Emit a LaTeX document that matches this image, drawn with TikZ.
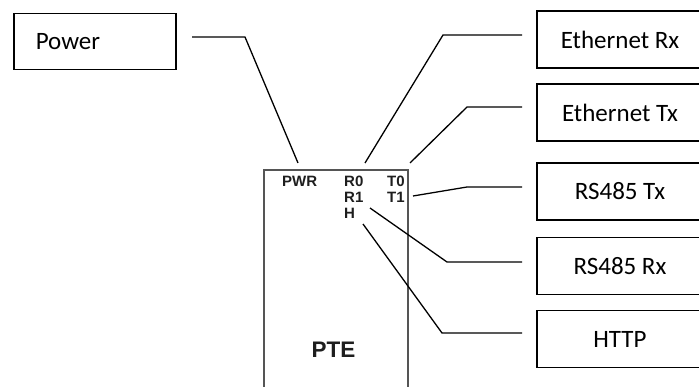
\documentclass[tikz,border=0pt]{standalone}
\usepackage{fontspec}
\setmainfont{Carlito}
\newfontfamily\pinfont{Liberation Sans}
\definecolor{pteborder}{HTML}{555555}
\definecolor{pintext}{HTML}{1E1E1E}
\tikzset{
  lblbox/.style={draw=black, line width=1.5pt, minimum height=57pt, inner sep=0pt,
    font=\fontsize{25pt}{28pt}\selectfont},
  rbox/.style={lblbox, minimum width=166pt},
  wire/.style={draw=black, line width=1.3pt},
  pin/.style={anchor=base west, inner sep=0pt, text=pintext,
    font=\pinfont\bfseries\fontsize{15pt}{16pt}\selectfont},
}
\begin{document}
\begin{tikzpicture}[x=1pt,y=-1pt]
\useasboundingbox (0,0) rectangle (699,387);
% device
\node[draw=pteborder, line width=2pt, anchor=north west, minimum width=144pt,
  minimum height=230pt, inner sep=0pt] (pte) at (263,169) {};
\node[anchor=base, inner sep=0pt, text=pintext,
  font=\pinfont\bfseries\fontsize{22.5pt}{24pt}\selectfont] (ptelbl) at (333.5,358) {PTE};
\node[pin] (pwr) at (282,187) {PWR};
\node[pin] (r0) at (344,187) {R0};
\node[pin] (t0) at (387,187) {T0};
\node[pin] (r1) at (344,203) {R1};
\node[pin] (t1) at (387,203) {T1};
\node[pin] (h) at (344,219) {H};
% label boxes
\node[lblbox, anchor=north west, minimum width=162pt, minimum height=56pt,
  text width=118pt, inner xsep=22pt, align=left] (power) at (13,13) {Power};
\node[rbox] (ethrx) at (620,39.5) {Ethernet Rx};
\node[rbox] (ethtx) at (620,112.5) {Ethernet Tx};
\node[rbox] (rstx) at (620,191.5) {RS485 Tx};
\node[rbox] (rsrx) at (620,266) {RS485 Rx};
\node[rbox] (http) at (620,339) {HTTP};
% wire ends
\coordinate (pwrA) at (192,37);
\coordinate (pwrB) at (245,37);
\coordinate (pwrpin) at (298,163);
\coordinate (erxA) at (522,35);
\coordinate (erxB) at (443,35);
\coordinate (erxpin) at (365,163);
\coordinate (etxA) at (522,107);
\coordinate (etxB) at (467,107);
\coordinate (etxpin) at (410,163);
\coordinate (rtxA) at (522,187);
\coordinate (rtxB) at (467,187);
\coordinate (rtxpin) at (413,196);
\coordinate (rrxA) at (522,262);
\coordinate (rrxB) at (447,262);
\coordinate (rrxpin) at (370,208);
\coordinate (htA) at (522,333);
\coordinate (htB) at (442,333);
\coordinate (htpin) at (363,224);
% wires
\draw[wire] (pwrA) -- (pwrB) -- (pwrpin);
\draw[wire] (erxA) -- (erxB) -- (erxpin);
\draw[wire] (etxA) -- (etxB) -- (etxpin);
\draw[wire] (rtxA) -- (rtxB) -- (rtxpin);
\draw[wire] (rrxA) -- (rrxB) -- (rrxpin);
\draw[wire] (htA) -- (htB) -- (htpin);
\end{tikzpicture}
\end{document}
